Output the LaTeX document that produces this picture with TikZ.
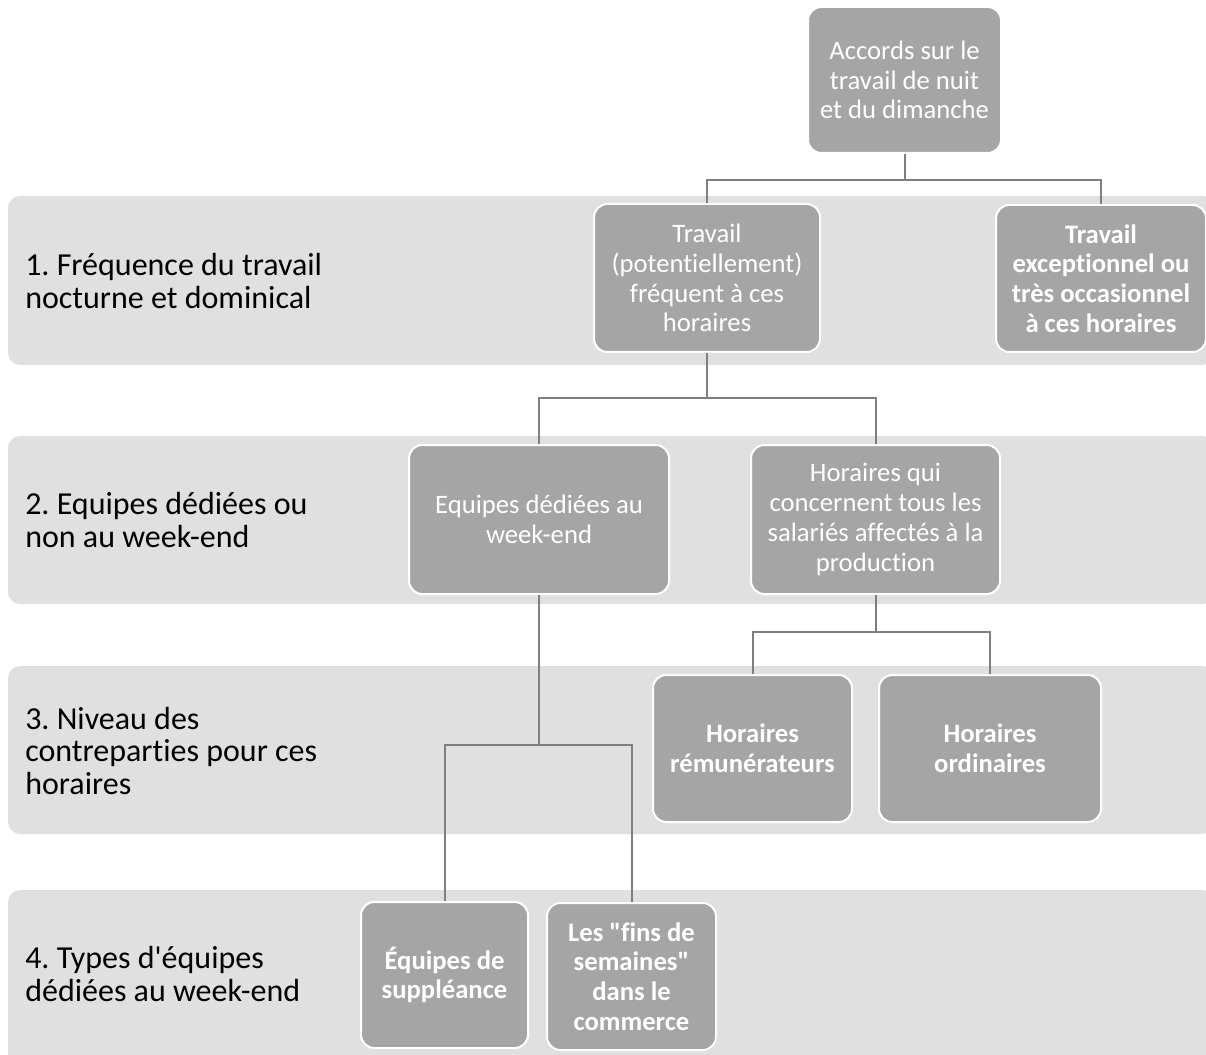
\documentclass[tikz,border=0pt]{standalone}
\usepackage{fontspec}
\setmainfont{Carlito}[Ligatures={NoCommon}]
\usepackage{tikz}
\usepackage{xcolor}
\definecolor{bandgray}{HTML}{E0E0E0}
\definecolor{boxgray}{HTML}{A5A5A5}
\definecolor{linegray}{HTML}{7F7F7F}
\frenchspacing

\begin{document}
\begin{tikzpicture}[x=0.75pt, y=-0.75pt,
    band/.style={fill=bandgray, rounded corners=9pt},
    box/.style 2 args={draw=white, line width=1.5pt, fill=boxgray, rounded corners=10pt,
        minimum width=#1*0.75pt, minimum height=#2*0.75pt, align=center, text=white,
        inner sep=2pt, font=\fontsize{20}{22.3}\selectfont},
    boldbox/.style 2 args={box={#1}{#2}, font=\fontsize{20}{22.3}\selectfont\bfseries},
    level/.style={anchor=west, align=left, inner sep=0pt, font=\fontsize{24}{24.5}\selectfont},
    link/.style={draw=linegray, line width=1.5pt}]
    \clip (0,0) rectangle (1206,1055);

    % bands of the four levels
    \fill[band] (8,196) rectangle (1214,365);
    \fill[band] (8,436) rectangle (1214,604);
    \fill[band] (8,666) rectangle (1214,834);
    \fill[band] (8,890) rectangle (1214,1070);

    \node[level] (lev1) at (25,281) {1. Fréquence du travail\\nocturne et dominical};
    \node[level] (lev2) at (25,520) {2. Equipes dédiées ou\\non au week-end};
    \node[level] (lev3) at (25,751) {3. Niveau des\\contreparties pour ces\\horaires};
    \node[level] (lev4) at (25,974) {4. Types d\textquotesingle équipes\\dédiées au week-end};

    % boxes
    \node[box={193}{146}] (root) at (904.5,80) {Accords sur le\\travail de nuit\\et du dimanche};
    \node[box={226}{148}] (freq) at (707,278) {Travail\\(potentiellement)\\fréquent à ces\\horaires};
    \node[boldbox={210}{147}] (excep) at (1101,278.5) {Travail\\exceptionnel ou\\très occasionnel\\à ces horaires};
    \node[box={260}{149}] (dedie) at (539,519.5) {Equipes dédiées au\\week-end};
    \node[box={249}{149}] (tous) at (875.5,519.5) {Horaires qui\\concernent tous les\\salariés affectés à la\\production};
    \node[boldbox={199}{147}] (remu) at (752.5,748.5) {Horaires\\rémunérateurs};
    \node[boldbox={222}{147}] (ordi) at (990,748.5) {Horaires\\ordinaires};
    \node[boldbox={167}{146}] (suppl) at (444.5,975) {Équipes de\\suppléance};
    \node[boldbox={169}{147}] (fins) at (631.5,976.5) {Les \textquotedbl fins de\\semaines\textquotedbl\\dans le\\commerce};

    % connectors
    \coordinate (j1) at (904.5,180);
    \coordinate (j2) at (707,398);
    \coordinate (j3) at (875.5,632);
    \coordinate (j4) at (539,745);
    \draw[link] (root.south) -- (j1);
    \draw[link] (j1) -| (freq.north);
    \draw[link] (j1) -| (excep.north);
    \draw[link] (freq.south) -- (j2);
    \draw[link] (j2) -| (dedie.north);
    \draw[link] (j2) -| (tous.north);
    \draw[link] (tous.south) -- (j3);
    \draw[link] (j3) -| (remu.north);
    \draw[link] (j3) -| (ordi.north);
    \draw[link] (dedie.south) -- (j4);
    \draw[link] (j4) -| (suppl.north);
    \draw[link] (j4) -| (fins.north);
\end{tikzpicture}
\end{document}
